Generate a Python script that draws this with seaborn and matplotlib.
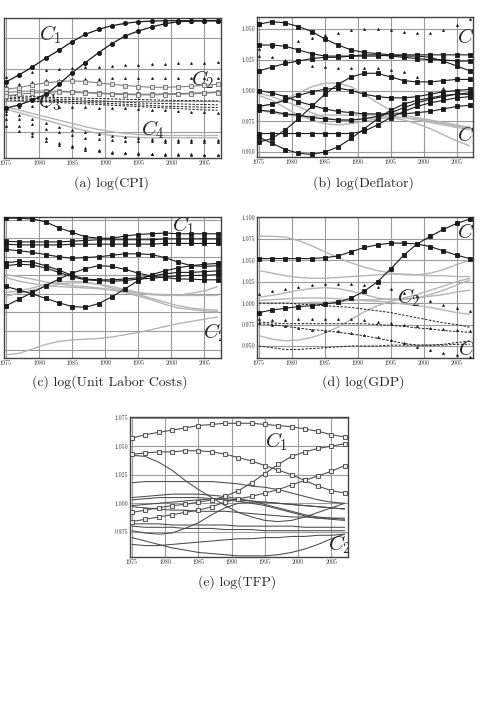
import matplotlib
matplotlib.use('Agg')
import matplotlib.pyplot as plt
from matplotlib.ticker import FormatStrFormatter
import seaborn as sns

# years sampled every two years
YEARS = list(range(1975, 2008, 2))

# ---------------- (a) log(CPI) ----------------
cpi_c1 = [
    [0.9899, 0.9955, 1.0019, 1.0088, 1.0152, 1.0221, 1.0279, 1.0319, 1.0348, 1.0367, 1.0380, 1.0385, 1.0388, 1.0388, 1.0388, 1.0388, 1.0388],
    [0.9689, 0.9715, 0.9753, 0.9800, 0.9880, 0.9973, 1.0053, 1.0133, 1.0205, 1.0266, 1.0306, 1.0338, 1.0364, 1.0380, 1.0385, 1.0388, 1.0388],
]
cpi_squares = [
    [0.9840, 0.9854, 0.9875, 0.9891, 0.9902, 0.9907, 0.9902, 0.9891, 0.9880, 0.9870, 0.9862, 0.9856, 0.9856, 0.9859, 0.9864, 0.9872, 0.9880],
    [0.9814, 0.9822, 0.9827, 0.9827, 0.9824, 0.9822, 0.9816, 0.9811, 0.9806, 0.9803, 0.9800, 0.9800, 0.9803, 0.9806, 0.9808, 0.9814, 0.9819],
    [0.9787, 0.9800, 0.9811, 0.9816, 0.9819, 0.9816, 0.9811, 0.9806, 0.9800, 0.9798, 0.9795, 0.9795, 0.9798, 0.9800, 0.9803, 0.9808, 0.9814],
]
cpi_dotted = [
    [0.9939, 0.9960, 0.9981, 0.9995, 1.0003, 1.0008, 1.0016, 1.0021, 1.0027, 1.0032, 1.0037, 1.0042, 1.0045, 1.0048, 1.0050, 1.0053, 1.0056],
    [0.9867, 0.9886, 0.9902, 0.9912, 0.9918, 0.9920, 0.9923, 0.9926, 0.9928, 0.9931, 0.9931, 0.9934, 0.9934, 0.9934, 0.9934, 0.9931, 0.9928],
    [0.9694, 0.9699, 0.9704, 0.9704, 0.9702, 0.9699, 0.9696, 0.9694, 0.9691, 0.9688, 0.9683, 0.9678, 0.9672, 0.9667, 0.9662, 0.9657, 0.9654],
    [0.9667, 0.9635, 0.9603, 0.9571, 0.9540, 0.9518, 0.9497, 0.9481, 0.9468, 0.9457, 0.9449, 0.9444, 0.9438, 0.9436, 0.9433, 0.9433, 0.9433],
    [0.9641, 0.9601, 0.9561, 0.9526, 0.9497, 0.9473, 0.9454, 0.9444, 0.9436, 0.9430, 0.9428, 0.9425, 0.9422, 0.9422, 0.9422, 0.9422, 0.9422],
    [0.9601, 0.9548, 0.9494, 0.9449, 0.9412, 0.9385, 0.9367, 0.9351, 0.9340, 0.9332, 0.9327, 0.9324, 0.9321, 0.9319, 0.9319, 0.9316, 0.9316],
    [0.9548, 0.9508, 0.9468, 0.9428, 0.9396, 0.9375, 0.9356, 0.9343, 0.9332, 0.9327, 0.9321, 0.9319, 0.9316, 0.9316, 0.9313, 0.9313, 0.9313],
]
cpi_dashed = [
    [0.9792, 0.9787, 0.9782, 0.9776, 0.9774, 0.9771, 0.9768, 0.9766, 0.9763, 0.9760, 0.9758, 0.9755, 0.9752, 0.9750, 0.9750, 0.9747, 0.9747],
    [0.9779, 0.9774, 0.9768, 0.9763, 0.9760, 0.9758, 0.9752, 0.9747, 0.9742, 0.9736, 0.9731, 0.9728, 0.9726, 0.9723, 0.9720, 0.9718, 0.9715],
    [0.9768, 0.9763, 0.9758, 0.9752, 0.9747, 0.9742, 0.9736, 0.9731, 0.9726, 0.9720, 0.9715, 0.9710, 0.9704, 0.9702, 0.9699, 0.9696, 0.9694],
    [0.9755, 0.9750, 0.9744, 0.9739, 0.9734, 0.9728, 0.9723, 0.9718, 0.9712, 0.9707, 0.9702, 0.9696, 0.9691, 0.9686, 0.9680, 0.9675, 0.9672],
]
cpi_gray = [
    [0.9699, 0.9673, 0.9646, 0.9619, 0.9593, 0.9566, 0.9540, 0.9518, 0.9500, 0.9486, 0.9478, 0.9473, 0.9470, 0.9470, 0.9470, 0.9470, 0.9470],
    [0.9681, 0.9651, 0.9622, 0.9593, 0.9563, 0.9534, 0.9508, 0.9486, 0.9470, 0.9460, 0.9454, 0.9452, 0.9452, 0.9452, 0.9452, 0.9452, 0.9452],
]

# ---------------- (b) log(Deflator) ----------------
defl_squares = [
    [1.054, 1.056, 1.055, 1.052, 1.048, 1.042, 1.037, 1.033, 1.031, 1.030, 1.029, 1.028, 1.028, 1.027, 1.024, 1.020, 1.016],
    [1.037, 1.037, 1.036, 1.033, 1.030, 1.028, 1.028, 1.028, 1.029, 1.029, 1.028, 1.027, 1.026, 1.025, 1.025, 1.024, 1.024],
    [1.016, 1.019, 1.022, 1.024, 1.026, 1.027, 1.027, 1.028, 1.028, 1.028, 1.029, 1.029, 1.029, 1.029, 1.029, 1.029, 1.029],
    [0.958, 0.961, 0.968, 0.977, 0.987, 0.997, 1.005, 1.011, 1.014, 1.014, 1.011, 1.008, 1.007, 1.007, 1.008, 1.009, 1.009],
    [0.987, 0.989, 0.992, 0.996, 0.999, 1.001, 1.002, 1.000, 0.997, 0.995, 0.994, 0.994, 0.995, 0.997, 0.999, 1.000, 1.001],
    [1.000, 0.998, 0.995, 0.991, 0.988, 0.985, 0.983, 0.982, 0.981, 0.981, 0.981, 0.981, 0.982, 0.983, 0.985, 0.987, 0.988],
    [0.984, 0.983, 0.981, 0.980, 0.978, 0.977, 0.976, 0.976, 0.977, 0.979, 0.982, 0.986, 0.990, 0.993, 0.995, 0.997, 0.998],
    [0.962, 0.957, 0.952, 0.949, 0.948, 0.950, 0.954, 0.961, 0.969, 0.977, 0.984, 0.989, 0.992, 0.994, 0.996, 0.997, 0.997],
    [0.965, 0.965, 0.965, 0.965, 0.965, 0.965, 0.965, 0.965, 0.967, 0.972, 0.978, 0.983, 0.987, 0.990, 0.992, 0.994, 0.995],
]
defl_dotted = [
    [1.034, 1.035, 1.037, 1.040, 1.043, 1.045, 1.047, 1.049, 1.050, 1.050, 1.049, 1.048, 1.047, 1.047, 1.049, 1.053, 1.058],
    [1.028, 1.027, 1.025, 1.022, 1.020, 1.019, 1.018, 1.018, 1.018, 1.018, 1.017, 1.015, 1.011, 1.006, 1.002, 1.000, 0.999],
]
defl_gray = [
    [0.998, 0.995, 0.991, 0.987, 0.982, 0.978, 0.976, 0.976, 0.977, 0.978, 0.978, 0.976, 0.973, 0.969, 0.964, 0.959, 0.955],
    [0.987, 0.989, 0.993, 0.998, 1.003, 1.006, 1.006, 1.003, 0.997, 0.990, 0.984, 0.980, 0.978, 0.976, 0.974, 0.972, 0.970],
    [0.996, 0.992, 0.986, 0.980, 0.976, 0.973, 0.972, 0.973, 0.975, 0.977, 0.978, 0.978, 0.977, 0.975, 0.973, 0.971, 0.969],
    [0.984, 0.982, 0.980, 0.979, 0.979, 0.980, 0.980, 0.980, 0.980, 0.980, 0.979, 0.978, 0.976, 0.974, 0.972, 0.970, 0.968],
]

# ---------------- (c) log(Unit Labor Costs) ----------------
ulc_squares = [
    [1.077, 1.077, 1.076, 1.072, 1.064, 1.058, 1.052, 1.050, 1.050, 1.053, 1.055, 1.056, 1.057, 1.056, 1.056, 1.056, 1.056],
    [1.046, 1.045, 1.045, 1.045, 1.045, 1.046, 1.047, 1.048, 1.048, 1.048, 1.048, 1.048, 1.049, 1.049, 1.049, 1.049, 1.049],
    [1.042, 1.041, 1.041, 1.041, 1.041, 1.042, 1.042, 1.042, 1.042, 1.042, 1.042, 1.042, 1.043, 1.043, 1.043, 1.043, 1.043],
    [1.035, 1.033, 1.031, 1.028, 1.025, 1.023, 1.024, 1.025, 1.027, 1.029, 1.029, 1.028, 1.024, 1.018, 1.013, 1.012, 1.013],
    [1.017, 1.019, 1.018, 1.013, 1.007, 1.000, 0.995, 0.994, 0.994, 0.995, 0.997, 0.999, 1.002, 1.004, 1.004, 1.005, 1.006],
    [1.013, 1.015, 1.014, 1.010, 1.004, 0.998, 0.994, 0.993, 0.992, 0.993, 0.995, 0.996, 0.998, 0.999, 1.000, 1.000, 1.001],
    [0.959, 0.968, 0.977, 0.986, 0.995, 1.003, 1.009, 1.013, 1.012, 1.008, 1.003, 0.999, 0.997, 0.995, 0.995, 0.994, 0.994],
    [0.985, 0.980, 0.975, 0.969, 0.963, 0.958, 0.957, 0.962, 0.971, 0.982, 0.993, 1.001, 1.006, 1.010, 1.013, 1.015, 1.016],
]
ulc_gray = [
    [1.001, 0.998, 0.995, 0.991, 0.989, 0.986, 0.985, 0.983, 0.981, 0.977, 0.974, 0.969, 0.964, 0.959, 0.956, 0.954, 0.953],
    [0.997, 0.992, 0.989, 0.986, 0.985, 0.984, 0.983, 0.982, 0.980, 0.977, 0.972, 0.967, 0.961, 0.956, 0.954, 0.952, 0.951],
    [0.977, 0.979, 0.983, 0.988, 0.991, 0.992, 0.991, 0.988, 0.983, 0.979, 0.976, 0.974, 0.973, 0.973, 0.976, 0.979, 0.985],
    [0.972, 0.976, 0.980, 0.985, 0.988, 0.990, 0.990, 0.988, 0.985, 0.981, 0.977, 0.975, 0.974, 0.973, 0.973, 0.973, 0.973],
    [0.893, 0.895, 0.901, 0.907, 0.911, 0.913, 0.914, 0.915, 0.917, 0.920, 0.923, 0.927, 0.931, 0.935, 0.938, 0.941, 0.944],
]

# ---------------- (d) log(GDP) ----------------
gdp_squares = [
    [1.052, 1.052, 1.052, 1.052, 1.052, 1.053, 1.055, 1.060, 1.065, 1.068, 1.070, 1.070, 1.069, 1.066, 1.061, 1.056, 1.052],
    [0.989, 0.992, 0.994, 0.996, 0.997, 0.999, 1.001, 1.006, 1.014, 1.025, 1.040, 1.056, 1.069, 1.078, 1.086, 1.093, 1.098],
]
gdp_dotted = [
    [1.011, 1.014, 1.017, 1.019, 1.021, 1.022, 1.022, 1.022, 1.021, 1.019, 1.016, 1.012, 1.008, 1.003, 0.998, 0.994, 0.991],
    [0.981, 0.980, 0.980, 0.981, 0.982, 0.982, 0.982, 0.981, 0.980, 0.978, 0.977, 0.975, 0.973, 0.971, 0.970, 0.969, 0.968],
    [0.977, 0.975, 0.973, 0.971, 0.969, 0.968, 0.967, 0.965, 0.963, 0.960, 0.957, 0.953, 0.949, 0.945, 0.942, 0.939, 0.937],
]
gdp_dashed = [
    [1.000, 1.000, 1.000, 0.999, 0.998, 0.997, 0.996, 0.995, 0.993, 0.991, 0.989, 0.986, 0.983, 0.980, 0.977, 0.975, 0.972],
    [0.978, 0.977, 0.976, 0.976, 0.976, 0.976, 0.976, 0.976, 0.976, 0.975, 0.974, 0.973, 0.971, 0.970, 0.968, 0.967, 0.966],
    [0.976, 0.975, 0.973, 0.971, 0.969, 0.968, 0.966, 0.964, 0.962, 0.959, 0.956, 0.953, 0.951, 0.951, 0.952, 0.954, 0.956],
    [0.950, 0.948, 0.946, 0.946, 0.947, 0.948, 0.949, 0.950, 0.950, 0.950, 0.951, 0.951, 0.951, 0.951, 0.951, 0.952, 0.952],
]
gdp_gray = [
    [1.078, 1.078, 1.077, 1.073, 1.067, 1.060, 1.053, 1.047, 1.042, 1.038, 1.035, 1.033, 1.033, 1.035, 1.039, 1.045, 1.050],
    [1.038, 1.035, 1.032, 1.030, 1.029, 1.029, 1.030, 1.031, 1.032, 1.033, 1.034, 1.034, 1.033, 1.032, 1.032, 1.031, 1.031],
    [1.007, 1.009, 1.012, 1.015, 1.017, 1.018, 1.017, 1.014, 1.010, 1.006, 1.004, 1.004, 1.006, 1.010, 1.015, 1.021, 1.027],
    [1.003, 1.004, 1.005, 1.006, 1.006, 1.006, 1.005, 1.004, 1.003, 1.002, 1.001, 0.999, 0.997, 0.995, 0.992, 0.989, 0.987],
    [0.962, 0.958, 0.956, 0.957, 0.960, 0.965, 0.972, 0.981, 0.990, 0.997, 1.002, 1.006, 1.010, 1.015, 1.020, 1.025, 1.029],
    [1.000, 1.000, 1.000, 1.000, 1.001, 1.001, 1.002, 1.003, 1.004, 1.004, 1.005, 1.005, 1.006, 1.008, 1.010, 1.013, 1.015],
]

# ---------------- (e) log(TFP) ----------------
tfp_squares = [
    [1.057, 1.060, 1.062, 1.064, 1.066, 1.068, 1.069, 1.070, 1.070, 1.070, 1.069, 1.068, 1.067, 1.065, 1.063, 1.060, 1.058],
    [1.043, 1.044, 1.045, 1.045, 1.046, 1.046, 1.045, 1.043, 1.040, 1.037, 1.033, 1.029, 1.025, 1.020, 1.015, 1.011, 1.009],
    [0.992, 0.994, 0.996, 0.998, 0.999, 1.001, 1.003, 1.006, 1.011, 1.018, 1.026, 1.034, 1.041, 1.045, 1.048, 1.050, 1.052],
    [0.984, 0.986, 0.988, 0.990, 0.992, 0.994, 0.997, 1.001, 1.004, 1.006, 1.009, 1.012, 1.016, 1.020, 1.024, 1.028, 1.033],
]
tfp_lines = [
    [1.042, 1.041, 1.036, 1.029, 1.020, 1.012, 1.005, 0.998, 0.992, 0.988, 0.985, 0.984, 0.985, 0.988, 0.992, 0.996, 1.000],
    [1.018, 1.019, 1.019, 1.019, 1.019, 1.019, 1.019, 1.018, 1.017, 1.015, 1.014, 1.012, 1.009, 1.006, 1.003, 1.001, 1.000],
    [1.005, 1.006, 1.007, 1.008, 1.008, 1.008, 1.007, 1.006, 1.004, 1.002, 0.999, 0.996, 0.993, 0.990, 0.988, 0.987, 0.986],
    [1.003, 1.004, 1.005, 1.005, 1.005, 1.005, 1.004, 1.003, 1.002, 1.000, 0.998, 0.995, 0.992, 0.989, 0.987, 0.986, 0.985],
    [0.998, 0.999, 1.000, 1.001, 1.002, 1.003, 1.004, 1.004, 1.003, 1.002, 1.001, 1.000, 0.999, 0.998, 0.997, 0.996, 0.995],
    [0.976, 0.974, 0.973, 0.974, 0.978, 0.983, 0.990, 0.996, 1.000, 1.001, 1.001, 1.000, 0.999, 0.998, 0.997, 0.996, 0.995],
    [0.970, 0.967, 0.964, 0.961, 0.959, 0.957, 0.956, 0.955, 0.954, 0.954, 0.954, 0.955, 0.957, 0.960, 0.964, 0.969, 0.973],
    [0.964, 0.963, 0.963, 0.964, 0.965, 0.966, 0.967, 0.968, 0.969, 0.969, 0.970, 0.970, 0.971, 0.971, 0.972, 0.972, 0.973],
    [0.982, 0.982, 0.982, 0.981, 0.981, 0.981, 0.981, 0.981, 0.980, 0.980, 0.980, 0.980, 0.980, 0.979, 0.979, 0.979, 0.979],
    [0.980, 0.979, 0.979, 0.979, 0.978, 0.978, 0.978, 0.977, 0.977, 0.977, 0.976, 0.976, 0.976, 0.976, 0.976, 0.976, 0.976],
    [0.997, 0.996, 0.995, 0.994, 0.994, 0.993, 0.993, 0.993, 0.992, 0.991, 0.990, 0.989, 0.988, 0.988, 0.987, 0.987, 0.987],
]

sns.set_theme(style='white')
plt.rcParams['font.family'] = ['cmr10', 'DejaVu Serif']
plt.rcParams['mathtext.fontset'] = 'cm'
plt.rcParams['axes.unicode_minus'] = False
plt.rcParams['axes.formatter.use_mathtext'] = False

W, H = 487, 727
fig = plt.figure(figsize=(W / 100, H / 100), dpi=100)


def make_ax(left, right, top, bottom):
    return fig.add_axes([left / W, 1 - bottom / H, (right - left) / W, (bottom - top) / H])


def setup(ax, ylim, yticks, ylabels=True):
    ax.set_xlim(1974.7, 2007.5)
    ax.set_ylim(*ylim)
    ax.set_xticks(range(1975, 2006, 5))
    ax.set_yticks(yticks)
    ax.yaxis.set_major_formatter(FormatStrFormatter('%.3f'))
    if not ylabels:
        # the labels of the left-hand panels lie outside the page
        ax.tick_params(axis='y', labelleft=False)
    ax.grid(True, color='#9a9a9a', lw=0.8)
    ax.set_axisbelow(True)
    ax.tick_params(length=0, labelsize=4.3, pad=1.5, colors='#333')
    ax.set_xlabel('')
    ax.set_ylabel('')
    for s in ax.spines.values():
        s.set_color('#444')
        s.set_linewidth(1.0)


def draw(ax, rows, color='k', marker=None, ms=2.6, ls='-', lw=0.8, mfc=None, mec=None, z=3):
    for r in rows:
        sns.lineplot(x=YEARS, y=r, ax=ax, color=color, marker=marker, markersize=ms,
                     linestyle=ls, linewidth=lw,
                     markerfacecolor=mfc if mfc else color,
                     markeredgecolor=mec if mec else color,
                     markeredgewidth=0.6, zorder=z)


def clabel(ax, x, y, s):
    ax.text(x, y, s, transform=ax.transAxes, fontsize=15, ha='left', va='center',
            clip_on=True, zorder=10)


GRAY = '#b5b5b5'

# (a)
ax = make_ax(4, 221, 18, 158)
draw(ax, cpi_gray, color=GRAY, lw=1.0, z=2)
draw(ax, cpi_dashed, color='k', ls=(0, (2.5, 1.5)), lw=0.7)
draw(ax, cpi_dotted, color='k', marker='^', ms=1.4, ls='')
draw(ax, cpi_squares, color='#808080', marker='s', ms=3.0, lw=0.8, mfc='#e0e0e0', mec='#707070')
draw(ax, cpi_c1, color='k', marker='o', ms=3.0, lw=0.9)
setup(ax, (0.929, 1.041), [0.950, 0.975, 1.000, 1.025], ylabels=False)
clabel(ax, 0.16, 0.88, r'$C_1$')
clabel(ax, 0.86, 0.56, r'$C_2$')
clabel(ax, 0.155, 0.40, r'$C_3$')
clabel(ax, 0.63, 0.20, r'$C_4$')
fig.text(112 / W, 1 - 183 / H, '(a) log(CPI)', ha='center', va='center', fontsize=10)

# (b)
ax = make_ax(257, 473, 17, 157)
draw(ax, defl_gray, color=GRAY, lw=1.0, z=2)
draw(ax, defl_dotted, color='k', marker='^', ms=1.4, ls='')
draw(ax, defl_squares, color='k', marker='s', ms=2.8, lw=0.8)
setup(ax, (0.9459, 1.0598), [0.950, 0.975, 1.000, 1.025, 1.050])
clabel(ax, 0.925, 0.85, r'$C_1$')
clabel(ax, 0.925, 0.155, r'$C_2$')
fig.text(363 / W, 1 - 183 / H, '(b) log(Deflator)', ha='center', va='center', fontsize=10)

# (c)
ax = make_ax(4, 221, 217, 358)
draw(ax, ulc_gray, color=GRAY, lw=1.0, z=2)
draw(ax, ulc_squares, color='k', marker='s', ms=2.8, lw=0.8)
setup(ax, (0.8887, 1.0786), [0.900, 0.925, 0.950, 0.975, 1.000, 1.025, 1.050, 1.075], ylabels=False)
clabel(ax, 0.775, 0.94, r'$C_1$')
clabel(ax, 0.915, 0.18, r'$C_2$')
fig.text(110 / W, 1 - 382 / H, '(c) log(Unit Labor Costs)', ha='center', va='center', fontsize=10)

# (d)
ax = make_ax(257, 473, 217, 358)
draw(ax, gdp_gray, color=GRAY, lw=1.0, z=2)
draw(ax, gdp_dashed, color='k', ls=(0, (2.5, 1.5)), lw=0.7)
draw(ax, gdp_dotted, color='k', marker='^', ms=1.4, ls='')
draw(ax, gdp_squares, color='k', marker='s', ms=2.8, lw=0.8)
setup(ax, (0.936, 1.1005), [0.950, 0.975, 1.000, 1.025, 1.050, 1.075, 1.100])
clabel(ax, 0.925, 0.885, r'$C_1$')
clabel(ax, 0.65, 0.43, r'$C_2$')
clabel(ax, 0.93, 0.06, r'$C_3$')
fig.text(363 / W, 1 - 382 / H, '(d) log(GDP)', ha='center', va='center', fontsize=10)

# (e)
ax = make_ax(130, 348, 417, 557)
draw(ax, tfp_lines, color='#4a4a4a', lw=0.75, z=2)
draw(ax, tfp_squares, color='#505050', marker='s', ms=3.0, lw=0.8, mfc='#e8e8e8', mec='#404040')
setup(ax, (0.953, 1.0755), [0.975, 1.000, 1.025, 1.050, 1.075])
clabel(ax, 0.62, 0.82, r'$C_1$')
clabel(ax, 0.91, 0.09, r'$C_2$')
fig.text(237 / W, 1 - 582 / H, '(e) log(TFP)', ha='center', va='center', fontsize=10)

fig.savefig('out.png', dpi=100, facecolor='white')
